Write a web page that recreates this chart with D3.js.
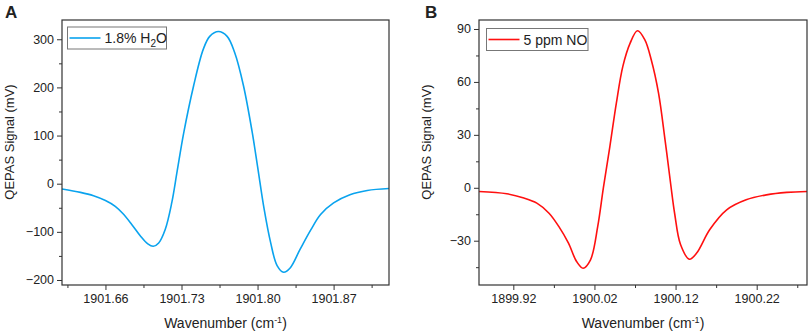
<!DOCTYPE html>
<html>
<head>
<meta charset="utf-8">
<script src="https://cdn.jsdelivr.net/npm/d3@7"></script>
<style>
  body { margin: 0; background: #fff; }
  text { font-family: "Liberation Sans", Arial, sans-serif; fill: #222; }
</style>
</head>
<body>
<div id="chart"></div>
<script>
// panel A: 1.8% H2O
var waveA = [1901.620, 1901.637, 1901.649, 1901.660, 1901.669, 1901.676, 1901.684, 1901.692, 1901.699, 1901.704,
             1901.709, 1901.715, 1901.721, 1901.726, 1901.732, 1901.741, 1901.750, 1901.756, 1901.764, 1901.772,
             1901.779, 1901.787, 1901.795, 1901.800, 1901.806, 1901.812, 1901.818, 1901.824, 1901.830, 1901.839,
             1901.849, 1901.858, 1901.870, 1901.885, 1901.901, 1901.921];
var signalA = [-11, -18, -25, -35, -47, -62, -84, -108, -125, -130,
               -123, -95, -40, 26, 105, 202, 279, 306, 316, 306,
               272, 204, 108, 36, -52, -122, -170, -184, -175, -137,
               -96, -64, -40, -23, -14, -10];
// panel B: 5 ppm NO
var waveB = [1899.877, 1899.912, 1899.933, 1899.949, 1899.964, 1899.976, 1899.988, 1899.998, 1900.006, 1900.015,
             1900.024, 1900.031, 1900.039, 1900.047, 1900.055, 1900.064, 1900.073, 1900.082, 1900.090, 1900.099,
             1900.107, 1900.114, 1900.119, 1900.126, 1900.137, 1900.146, 1900.162, 1900.183, 1900.207, 1900.232,
             1900.257, 1900.282];
var signalB = [-2.1, -3.4, -5.8, -8.7, -14.4, -21.9, -31.4, -41.8, -45.6, -41,
               -22, 0, 23.4, 48, 68.8, 82, 89, 84, 72.6, 53.7,
               27.2, 2, -15, -32, -40.5, -37, -23.8, -12.5, -6.8, -4,
               -2.6, -2.1];

var ticksXA = [1901.66, 1901.73, 1901.80, 1901.87];
var ticksYA = [-200, -100, 0, 100, 200, 300];
var ticksXB = [1899.92, 1900.02, 1900.12, 1900.22];
var ticksYB = [-30, 0, 30, 60, 90];

var svg = d3.select("#chart").append("svg")
    .attr("width", 809)
    .attr("height", 332);

function panel(opt) {
  var g = svg.append("g");
  var x = d3.scaleLinear().domain(opt.xdom).range([opt.left, opt.right]);
  var y = d3.scaleLinear().domain(opt.ydom).range([285, 20]);

  // minor ticks
  var xMinor = d3.range(opt.xminor[0], opt.xdom[1], opt.xminor[1]);
  var yMinor = d3.range(opt.yminor[0], opt.ydom[1], opt.yminor[1]);

  g.append("g")
      .attr("transform", "translate(0,285)")
      .call(d3.axisBottom(x).tickValues(xMinor).tickSize(3).tickFormat(""))
      .call(function(a) { a.select(".domain").remove(); a.selectAll("line").attr("stroke", "#333"); });
  g.append("g")
      .attr("transform", "translate(" + opt.left + ",0)")
      .call(d3.axisLeft(y).tickValues(yMinor).tickSize(3).tickFormat(""))
      .call(function(a) { a.select(".domain").remove(); a.selectAll("line").attr("stroke", "#333"); });

  // major ticks
  g.append("g")
      .attr("transform", "translate(0,285)")
      .call(d3.axisBottom(x).tickValues(opt.xticks).tickSize(5).tickPadding(4).tickFormat(d3.format(".2f")))
      .call(function(a) {
        a.select(".domain").remove();
        a.selectAll("line").attr("stroke", "#333");
        a.selectAll("text").style("font-size", "12.5px").attr("fill", "#222");
      });
  g.append("g")
      .attr("transform", "translate(" + opt.left + ",0)")
      .call(d3.axisLeft(y).tickValues(opt.yticks).tickSize(5).tickPadding(3).tickFormat(d3.format("d")))
      .call(function(a) {
        a.select(".domain").remove();
        a.selectAll("line").attr("stroke", "#333");
        a.selectAll("text").style("font-size", "12.5px").attr("fill", "#222");
      });

  // clip + line
  var cid = "clip" + opt.name;
  g.append("clipPath").attr("id", cid).append("rect")
      .attr("x", opt.left).attr("y", 20).attr("width", opt.right - opt.left).attr("height", 265);

  var line = d3.line()
      .x(function(d, i) { return x(opt.xs[i]); })
      .y(function(d) { return y(d); })
      .curve(d3.curveCatmullRom.alpha(0.5));
  g.append("path")
      .datum(opt.ys)
      .attr("clip-path", "url(#" + cid + ")")
      .attr("fill", "none")
      .attr("stroke", opt.color)
      .attr("stroke-width", 1.6)
      .attr("d", line);

  // frame
  g.append("rect")
      .attr("x", opt.left).attr("y", 20)
      .attr("width", opt.right - opt.left).attr("height", 265)
      .attr("fill", "none").attr("stroke", "#333").attr("stroke-width", 1.2);

  // legend
  var lg = g.append("g").attr("transform", "translate(" + opt.legend[0] + "," + opt.legend[1] + ")");
  lg.append("rect").attr("width", opt.legend[2]).attr("height", 22)
      .attr("fill", "#fff").attr("stroke", "#777").attr("stroke-width", 1);
  lg.append("line").attr("x1", 2).attr("x2", 33).attr("y1", 11).attr("y2", 11)
      .attr("stroke", opt.color).attr("stroke-width", 1.6);
  var lt = lg.append("text").attr("x", 37).attr("y", 16).style("font-size", "14px");
  opt.label(lt);

  // axis titles
  g.append("text")
      .attr("x", (opt.left + opt.right) / 2).attr("y", 328)
      .attr("text-anchor", "middle").style("font-size", "14px")
      .call(function(t) {
        t.append("tspan").text("Wavenumber (cm");
        t.append("tspan").attr("dy", -5).style("font-size", "9px").text("-1");
        t.append("tspan").attr("dy", 5).text(")");
      });
  g.append("text")
      .attr("transform", "translate(" + opt.ylabx + ",142) rotate(-90)")
      .attr("text-anchor", "middle").style("font-size", "13px")
      .text("QEPAS Signal (mV)");

  // panel letter
  g.append("text")
      .attr("x", opt.letterx).attr("y", 18)
      .style("font-size", "17px").style("font-weight", "bold").attr("fill", "#111")
      .text(opt.name);
}

panel({
  name: "A", xs: waveA, ys: signalA, color: "#0aa3ee",
  left: 62, right: 389, xdom: [1901.620, 1901.921], ydom: [-210.4, 340],
  xticks: ticksXA, yticks: ticksYA, xminor: [1901.625, 0.07], yminor: [-150, 100],
  legend: [67.5, 27, 99], ylabx: 14, letterx: 5,
  label: function(t) {
    t.append("tspan").text("1.8% H");
    t.append("tspan").attr("dy", 4).style("font-size", "10px").text("2");
    t.append("tspan").attr("dy", -4).text("O");
  }
});

panel({
  name: "B", xs: waveB, ys: signalB, color: "#ff1010",
  left: 479, right: 807, xdom: [1899.8777, 1900.282], ydom: [-55.1, 95.1],
  xticks: ticksXB, yticks: ticksYB, xminor: [1899.97, 0.1], yminor: [-45, 30],
  legend: [486.5, 28.5, 101.5], ylabx: 431, letterx: 425,
  label: function(t) { t.text("5 ppm NO"); }
});
</script>
</body>
</html>
